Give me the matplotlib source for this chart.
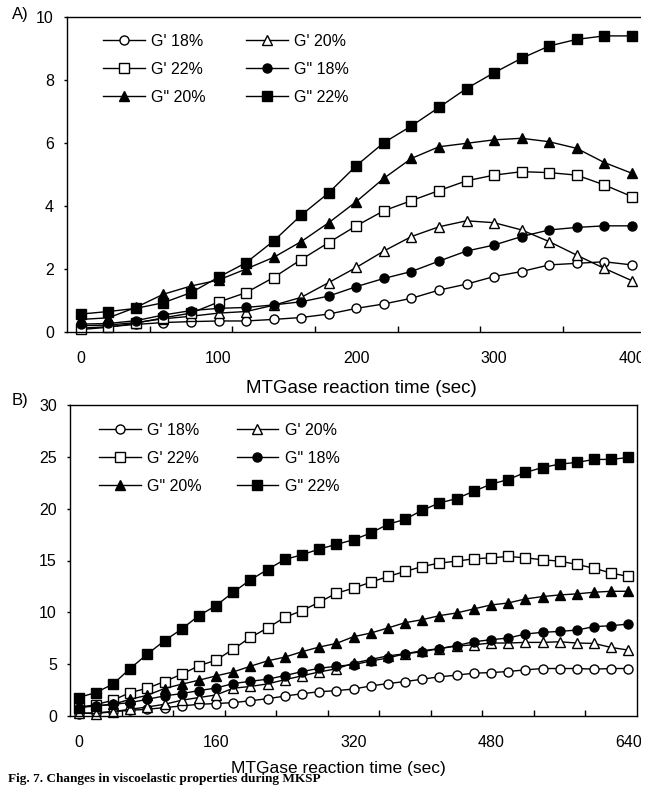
import matplotlib
matplotlib.use('Agg')
import matplotlib.pyplot as plt
from matplotlib.ticker import MultipleLocator, FixedLocator
from matplotlib.patches import Rectangle

plt.rcParams['font.family'] = ['Liberation Sans', 'DejaVu Sans']

# panel A: 0-400 sec
time_a = list(range(0, 401, 20))
gp18_a = [0.12, 0.17, 0.24, 0.30, 0.33, 0.35, 0.35, 0.40, 0.46, 0.57, 0.75,
          0.89, 1.07, 1.33, 1.52, 1.76, 1.92, 2.13, 2.18, 2.23, 2.13]
gp20_a = [0.20, 0.22, 0.30, 0.42, 0.50, 0.60, 0.65, 0.85, 1.10, 1.57, 2.05,
          2.57, 3.03, 3.34, 3.53, 3.47, 3.24, 2.87, 2.44, 2.02, 1.63]
gp22_a = [0.08, 0.15, 0.28, 0.45, 0.60, 0.95, 1.25, 1.73, 2.30, 2.84, 3.37,
          3.85, 4.17, 4.49, 4.80, 4.98, 5.09, 5.06, 4.98, 4.67, 4.30]
gpp18_a = [0.25, 0.27, 0.36, 0.54, 0.68, 0.75, 0.78, 0.86, 0.96, 1.14, 1.44,
           1.70, 1.92, 2.25, 2.57, 2.76, 3.03, 3.24, 3.32, 3.37, 3.37]
gpp20_a = [0.40, 0.45, 0.78, 1.20, 1.46, 1.65, 2.00, 2.37, 2.87, 3.47, 4.14,
           4.88, 5.51, 5.88, 5.99, 6.10, 6.15, 6.04, 5.83, 5.38, 5.04]
gpp22_a = [0.57, 0.65, 0.75, 0.93, 1.25, 1.74, 2.20, 2.89, 3.71, 4.42, 5.28,
           6.01, 6.54, 7.13, 7.73, 8.23, 8.69, 9.08, 9.29, 9.40, 9.40]

# panel B: 0-640 sec
time_b = list(range(0, 641, 20))
gp18_b = [0.23, 0.32, 0.42, 0.55, 0.65, 0.81, 0.97, 1.13, 1.20, 1.29, 1.47,
          1.67, 1.92, 2.15, 2.34, 2.45, 2.60, 2.90, 3.13, 3.32, 3.55, 3.78,
          3.94, 4.13, 4.19, 4.29, 4.45, 4.58, 4.58, 4.58, 4.52, 4.58, 4.58]
gp20_b = [0.30, 0.23, 0.42, 0.65, 0.87, 1.13, 1.52, 1.78, 2.03, 2.68, 2.85,
          3.10, 3.50, 3.87, 4.25, 4.55, 5.10, 5.45, 5.80, 6.00, 6.30, 6.50,
          6.75, 6.87, 7.04, 7.04, 7.10, 7.10, 7.16, 7.04, 7.00, 6.61, 6.36]
gp22_b = [0.80, 1.10, 1.52, 2.26, 2.68, 3.32, 4.03, 4.84, 5.39, 6.45, 7.58,
          8.49, 9.52, 10.16, 10.97, 11.84, 12.33, 12.90, 13.46, 13.94, 14.42, 14.75,
          14.94, 15.16, 15.26, 15.39, 15.26, 15.07, 14.94, 14.62, 14.26, 13.78, 13.46]
gpp18_b = [0.81, 0.97, 1.13, 1.29, 1.61, 1.94, 2.16, 2.45, 2.70, 3.13, 3.35,
           3.55, 3.90, 4.28, 4.60, 4.80, 4.95, 5.30, 5.60, 6.00, 6.20, 6.50,
           6.80, 7.16, 7.36, 7.52, 7.91, 8.07, 8.16, 8.29, 8.62, 8.71, 8.87]
gpp20_b = [0.90, 0.97, 1.13, 1.61, 2.00, 2.65, 3.07, 3.45, 3.87, 4.25, 4.80,
           5.32, 5.68, 6.20, 6.65, 7.00, 7.65, 8.00, 8.49, 9.00, 9.29, 9.68,
           9.94, 10.33, 10.71, 10.90, 11.29, 11.52, 11.68, 11.78, 11.94, 12.03, 12.03]
gpp22_b = [1.78, 2.26, 3.07, 4.58, 5.97, 7.26, 8.39, 9.68, 10.65, 11.94, 13.13,
           14.13, 15.10, 15.55, 16.10, 16.55, 17.00, 17.65, 18.49, 18.97, 19.85, 20.55,
           20.97, 21.68, 22.36, 22.81, 23.49, 23.97, 24.30, 24.46, 24.75, 24.75, 24.94]

labels = ["G' 18%", "G' 20%", "G' 22%", 'G" 18%', 'G" 20%', 'G" 22%']
markers = ['o', '^', 's', 'o', '^', 's']
filled = [False, False, False, True, True, True]

W, H = 655, 786
fig = plt.figure(figsize=(W / 100, H / 100), dpi=100)


def box(l, t, r, b):
    return [l / W, 1 - b / H, (r - l) / W, (b - t) / H]


def draw(ax, t, series, ymax, ystep, xlabels, leg_xy, colsp, xlabel_xy, xlabel_size):
    for y, lab, m, f in zip(series, labels, markers, filled):
        ax.plot(t, y, color='black', lw=1, marker=m, ms=6.5,
                mfc='black' if f else 'white', mec='black', mew=1,
                label=lab, clip_on=False)
    ax.set_xlim(-10, t[-1] + 10)
    ax.set_ylim(0, ymax)
    ax.set_xticks(xlabels)
    ax.xaxis.set_minor_locator(FixedLocator(list(range(50, t[-1], 60))))
    ax.yaxis.set_major_locator(MultipleLocator(ystep))
    ax.tick_params(axis='x', which='major', length=0, pad=14, labelsize=11.5)
    ax.tick_params(axis='x', which='minor', direction='in', length=4.5, width=1)
    ax.tick_params(axis='y', direction='out', length=2.5, width=1, pad=7, labelsize=11.5)
    for s in ax.spines.values():
        s.set_linewidth(1)

    # Excel legend fills row by row
    h, l = ax.get_legend_handles_labels()
    order = [0, 2, 4, 1, 3, 5]
    ax.legend([h[i] for i in order], [l[i] for i in order], ncol=2,
              loc='upper left', bbox_to_anchor=(leg_xy[0] / W, 1 - leg_xy[1] / H),
              bbox_transform=fig.transFigure, frameon=False, fontsize=11.5,
              handlelength=2.6, handletextpad=0.4, columnspacing=colsp,
              labelspacing=0.8, borderpad=0, borderaxespad=0)
    fig.text(xlabel_xy[0] / W, 1 - xlabel_xy[1] / H, 'MTGase reaction time (sec)',
             ha='center', va='center', fontsize=xlabel_size)


axA = fig.add_axes(box(67, 17, 645.6, 332))
draw(axA, time_a, [gp18_a, gp20_a, gp22_a, gpp18_a, gpp20_a, gpp22_a],
     10, 2, [0, 100, 200, 300, 400], (103, 34), 2.55, (361, 388), 13.5)

axB = fig.add_axes(box(70, 405, 637, 716))
draw(axB, time_b, [gp18_b, gp20_b, gp22_b, gpp18_b, gpp20_b, gpp22_b],
     30, 5, [0, 160, 320, 480, 640], (99, 423), 2.2, (338, 768), 12.5)

fig.text(12 / W, 1 - 15 / H, 'A)', fontsize=12, va='center')
fig.text(12 / W, 1 - 401 / H, 'B)', fontsize=12, va='center')

fig.text(8 / W, 1 - 785 / H, 'Fig. 7. Changes in viscoelastic properties during MKSP',
         va='bottom', ha='left', fontsize=9.5, fontweight='bold',
         family=['Liberation Serif', 'DejaVu Serif'])

# source picture is cut off on the right
fig.add_artist(Rectangle((641 / W, 0), 14 / W, 1, transform=fig.transFigure,
                         facecolor='white', edgecolor='none', zorder=10))

fig.savefig('out.png', dpi=100)
